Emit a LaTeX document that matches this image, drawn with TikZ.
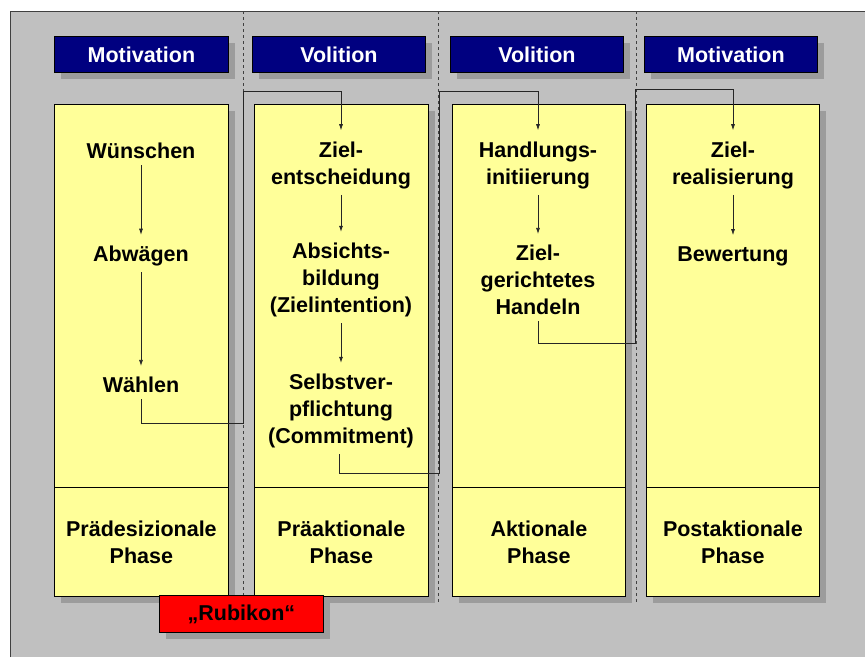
\documentclass[tikz,border=0pt]{standalone}
\usepackage{fontspec}
\setmainfont{Liberation Sans}
\usetikzlibrary{arrows.meta,shadows}
\definecolor{framegray}{RGB}{192,192,192}
\definecolor{shgray}{RGB}{156,156,156}
\definecolor{paleyellow}{RGB}{255,255,153}
\definecolor{navyblue}{RGB}{0,0,128}
\definecolor{edgegray}{RGB}{64,64,64}

\begin{document}
\begin{tikzpicture}[x=1pt,y=-1pt,
  lbl/.style={font=\fontsize{21.5}{27}\selectfont\bfseries, align=center},
  shadowed/.style={general shadow={shadow xshift=7pt, shadow yshift=-7pt, fill=shgray}},
  hdr/.style={shadowed, draw=black, line width=0.8pt, fill=navyblue, text=white, lbl,
    minimum width=#1, minimum height=36pt, anchor=north west, inner sep=0pt},
  colup/.style={shadowed, draw=black, line width=0.8pt, fill=paleyellow,
    minimum width=#1, minimum height=383pt, anchor=north west, inner sep=0pt},
  coldown/.style={shadowed, draw=black, line width=0.8pt, fill=paleyellow, lbl,
    minimum width=#1, minimum height=109pt, anchor=north west, inner sep=0pt},
  stage/.style={lbl, inner sep=0pt},
  phasesep/.style={edgegray, line width=0.8pt, dash pattern=on 3pt off 3pt},
  conn/.style={draw=black!85, line width=0.7pt, -{Latex[length=6pt,width=4pt]},
    shorten <=6pt, shorten >=11pt}
]
\useasboundingbox (0,0) rectangle (865,657);
\fill[white] (0,0) rectangle (865,657);

% frame
\fill[framegray] (10,11) rectangle (865,657);
\draw[edgegray, line width=1pt] (10,657) -- (10,11) -- (865,11);

% phase separators
\draw[phasesep] (243,11) -- (243,603);
\draw[phasesep] (438,11) -- (438,603);
\draw[phasesep] (636,11) -- (636,603);

% headers
\node[hdr=174pt] (h1) at (54,36) {Motivation};
\node[hdr=173pt] (h2) at (252,36) {Volition};
\node[hdr=173pt] (h3) at (450,36) {Volition};
\node[hdr=173pt] (h4) at (644,36) {Motivation};

% columns
\node[colup=174pt] (c1) at (54,104) {};
\node[coldown=174pt] (p1) at (54,487) {Prädesizionale\\Phase};
\node[colup=174pt] (c2) at (254,104) {};
\node[coldown=174pt] (p2) at (254,487) {Präaktionale\\Phase};
\node[colup=173pt] (c3) at (452,104) {};
\node[coldown=173pt] (p3) at (452,487) {Aktionale\\Phase};
\node[colup=173pt] (c4) at (646,104) {};
\node[coldown=173pt] (p4) at (646,487) {Postaktionale\\Phase};

% stages
\node[stage] (wuen) at (141,151) {Wünschen};
\node[stage] (abw)  at (141,256) {Abwägen};
\node[stage] (wahl) at (141,385) {Wählen};

\node[stage] (zent) at (341,165) {Ziel-\\entscheidung};
\node[stage] (absi) at (341,280) {Absichts-\\bildung\\(Zielintention)};
\node[stage] (selb) at (341,411) {Selbstver-\\pflichtung\\(Commitment)};

\node[stage] (hand) at (538,165) {Handlungs-\\initiierung};
\node[stage] (zgh)  at (538,280) {Ziel-\\gerichtetes\\Handeln};

\node[stage] (zreal) at (733,165) {Ziel-\\realisierung};
\node[stage] (bew)   at (733,256) {Bewertung};

% arrows within a phase
\draw[conn] (wuen) -- (abw);
\draw[conn] (abw) -- (wahl);
\draw[conn] (zent) -- (absi);
\draw[conn] (absi) -- (selb);
\draw[conn] (hand) -- (zgh);
\draw[conn] (zreal) -- (bew);

% transitions between phases
\coordinate (b1) at (243,423);
\coordinate (t1) at (243,91);
\coordinate (b2) at (439,473);
\coordinate (t2) at (439,91);
\coordinate (b3) at (635,343);
\coordinate (t3) at (635,89);
\draw[conn] (wahl.south) |- (b1) -- (t1) -| (zent.north);
\draw[conn] ([xshift=-2pt]selb.south) |- (b2) -- (t2) -| (hand.north);
\draw[conn] (zgh.south) |- (b3) -- (t3) -| (zreal.north);

% crossing point
\node[shadowed, draw=black, line width=0.8pt, fill=red, lbl, minimum width=164pt,
  minimum height=37pt, anchor=north west, inner sep=0pt] (rub) at (159,595) {„Rubikon“};
\end{tikzpicture}
\end{document}
